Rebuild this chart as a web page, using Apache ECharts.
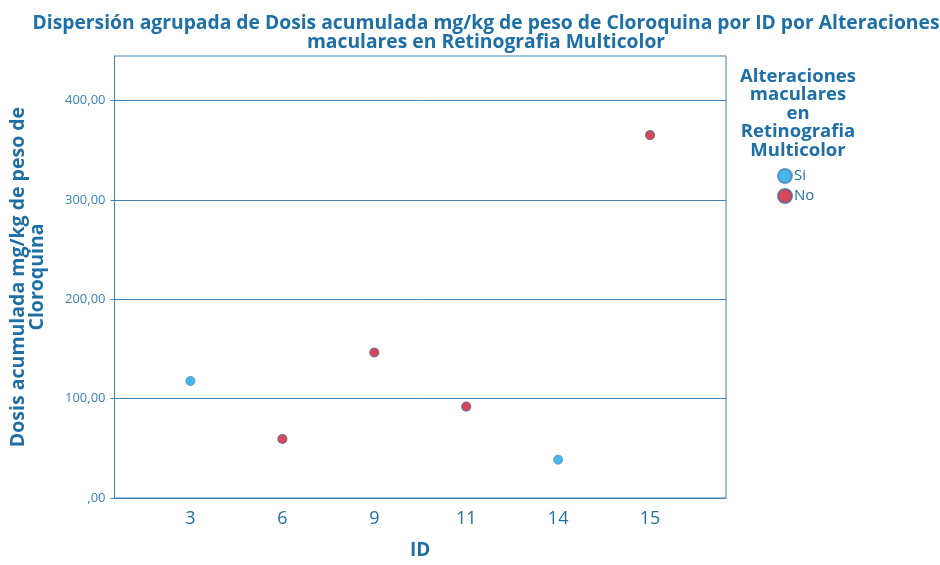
<!DOCTYPE html>
<html><head><meta charset="utf-8">
<script src="https://cdn.jsdelivr.net/npm/echarts@6/dist/echarts.min.js"></script>
<style>html,body{margin:0;padding:0;background:#fff;overflow:hidden}#c{width:940px;height:565px}</style>
</head><body><div id="c"></div>
<script>
const categories = ['3','6','9','11','14','15'];
const groups = ['Si','No'];
const groupOf = ['Si','No','No','No','Si','No'];
const dosis = [117.8, 59.4, 146.5, 92.0, 38.6, 365.3];
const yTicks = [0, 100, 200, 300, 400];

const txt = '#1d6fa5';
const font = 'Open Sans';
function seriesFor(g){
  const d = [];
  categories.forEach((c,i)=>{ if(groupOf[i]===g) d.push([i, dosis[i]]); });
  return d;
}
const chart = echarts.init(document.getElementById('c'));
chart.setOption({
  animation:false,
  textStyle:{fontFamily:font},
  title:[{
    text:'Dispersión agrupada de Dosis acumulada mg/kg de peso de Cloroquina por ID por Alteraciones\nmaculares en Retinografia Multicolor',
    left:481, top:9, textAlign:'center',
    textStyle:{color:txt, fontSize:19.3, fontWeight:'bold', lineHeight:19, fontFamily:font}
  },{
    text:'Alteraciones\nmaculares\nen\nRetinografia\nMulticolor',
    left:793, top:62, textAlign:'center',
    textStyle:{color:txt, fontSize:18.5, fontWeight:'bold', lineHeight:18.6, fontFamily:font}
  }],
  legend:{
    data:groups, orient:'vertical', left:772, top:163, itemGap:4,
    itemWidth:14, itemHeight:14, icon:'circle',
    textStyle:{color:txt, fontSize:15, fontFamily:font, padding:[0,0,0,-3]}
  },
  grid:{left:113, top:56, width:613, height:449, show:true, borderColor:'#3f83b5', borderWidth:1},
  xAxis:{
    type:'value', min:-0.826, max:5.826,
    name:'ID', nameLocation:'middle', nameGap:43,
    nameTextStyle:{color:txt, fontSize:19, fontWeight:'bold', fontFamily:font},
    axisLine:{show:true, onZero:false, lineStyle:{color:'#3f83b5'}},
    axisTick:{show:false},
    splitLine:{show:false},
    axisLabel:{customValues:[0,1,2,3,4,5], formatter:v=>categories[Math.round(v)] ?? '',
      color:txt, fontSize:18, margin:12, fontFamily:font}
  },
  yAxis:{
    type:'value', min:0, max:445, interval:100,
    name:'Dosis acumulada mg/kg de peso de\nCloroquina', nameLocation:'middle', nameGap:68,
    nameTextStyle:{color:txt, fontSize:19.5, fontWeight:'bold', lineHeight:19, fontFamily:font},
    axisLine:{show:true, onZero:false, lineStyle:{color:'#3f83b5'}},
    axisTick:{show:true, length:4, customValues:yTicks, lineStyle:{color:'#3f83b5'}},
    splitLine:{lineStyle:{color:'#3f83b5', width:1}},
    axisLabel:{customValues:yTicks, color:'#3a82b8', fontSize:13, margin:9, fontFamily:font,
      formatter:v=> v===0 ? ',00' : v.toFixed(2).replace('.',',')}
  },
  series:[{
    name:'Si', type:'scatter', data:seriesFor('Si'), symbolSize:9,
    itemStyle:{color:'#18a5e6', borderColor:'#4f86c0', borderWidth:1}
  },{
    name:'No', type:'scatter', data:seriesFor('No'), symbolSize:9,
    itemStyle:{color:'#d0192b', borderColor:'#50649e', borderWidth:1.2}
  }]
});
</script></body></html>
